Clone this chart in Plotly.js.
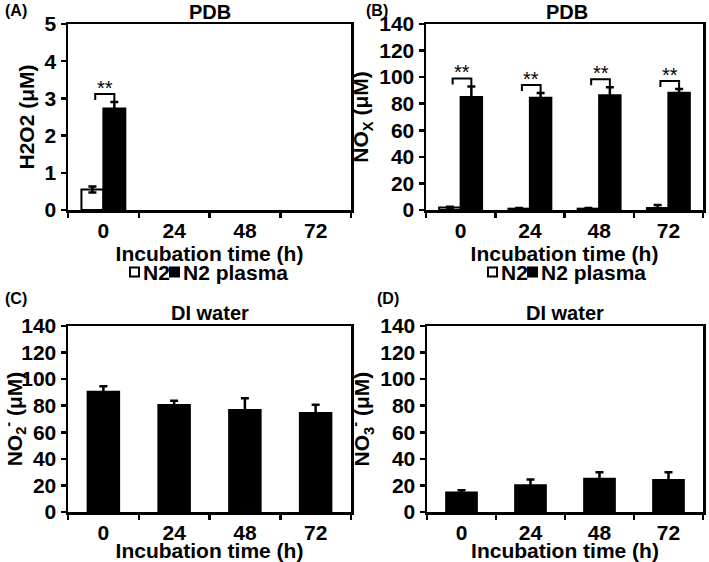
<!DOCTYPE html>
<html>
<head>
<meta charset="utf-8">
<script src="https://cdn.plot.ly/plotly-3.0.1.min.js"></script>
<style>html,body{margin:0;padding:0;background:#fff;}#chart{width:709px;height:562px;}</style>
</head>
<body>
<div id="chart"></div>
<script>
// ---- data ----
const categories = ['0', '24', '48', '72'];
const seriesNames = ['N2', 'N2 plasma'];

const h2o2_N2 = [0.55, null, null, null];
const h2o2_N2_err = [0.08, null, null, null];
const h2o2_plasma = [2.73, null, null, null];
const h2o2_plasma_err = [0.17, null, null, null];
const h2o2_sig = ['**', null, null, null];

const nox_N2 = [1.8, 1.0, 1.0, 1.5];
const nox_N2_err = [0.6, 0.5, 0.5, 2.3];
const nox_plasma = [85.0, 84.5, 86.3, 88.3];
const nox_plasma_err = [8.0, 3.5, 6.0, 2.7];
const nox_sig = ['**', '**', '**', '**'];

const no2_DI = [90.5, 80.5, 76.7, 74.5];
const no2_DI_err = [4.2, 3.3, 9.0, 6.3];

const no3_DI = [14.6, 20.1, 25.1, 24.1];
const no3_DI_err = [1.7, 4.3, 4.8, 5.8];

// ---- layout helpers ----
const W = 709, H = 562;
const FONT = 'Liberation Sans, Arial, Helvetica, sans-serif';
const fx = px => px / W;
const fy = py => 1 - py / H;

const boxes = {
  A: {x: [68, 351], y: [24, 210], yr: [0, 5], dt: 1},
  B: {x: [426, 703], y: [24, 210], yr: [0, 140], dt: 20},
  C: {x: [68, 351], y: [326, 512], yr: [0, 140], dt: 20},
  D: {x: [427, 703], y: [326, 512], yr: [0, 140], dt: 20}
};

const GW = 0.31;   // grouped bar width (category units)
const SW = 0.445;  // single bar width

function errBar(arr) {
  return {type: 'data', array: arr, visible: true, color: 'black', thickness: 2.5, width: 4};
}

const traces = [];
function grouped(xa, ya, n2, n2e, pl, ple) {
  traces.push({type: 'bar', name: seriesNames[0], x: categories, y: n2, xaxis: xa, yaxis: ya,
    width: GW, offset: -GW, marker: {color: 'white', line: {color: 'black', width: 2}},
    error_y: errBar(n2e), showlegend: false, hoverinfo: 'y'});
  traces.push({type: 'bar', name: seriesNames[1], x: categories, y: pl, xaxis: xa, yaxis: ya,
    width: GW, offset: 0, marker: {color: 'black', line: {color: 'black', width: 2}},
    error_y: errBar(ple), showlegend: false, hoverinfo: 'y'});
}
function single(xa, ya, v, e) {
  traces.push({type: 'bar', name: 'DI water', x: categories, y: v, xaxis: xa, yaxis: ya,
    width: SW, marker: {color: 'black', line: {color: 'black', width: 2}},
    error_y: errBar(e), showlegend: false, hoverinfo: 'y'});
}
grouped('x', 'y', h2o2_N2, h2o2_N2_err, h2o2_plasma, h2o2_plasma_err);
grouped('x2', 'y2', nox_N2, nox_N2_err, nox_plasma, nox_plasma_err);
single('x3', 'y3', no2_DI, no2_DI_err);
single('x4', 'y4', no3_DI, no3_DI_err);

const tickFont = {family: FONT, size: 21, color: 'black', weight: 'bold'};
const titleFont = {family: FONT, size: 21, color: 'black', weight: 'bold'};

function xAxis(b, anchor) {
  return {domain: [fx(b.x[0]), fx(b.x[1])], anchor: anchor, type: 'category',
    categoryorder: 'array', categoryarray: categories, range: [-0.5, 3.5],
    tickson: 'boundaries', ticks: 'outside', ticklen: 5, tickwidth: 2.5, tickcolor: 'black',
    showline: true, mirror: true, linecolor: 'black', linewidth: 2.5,
    showgrid: false, zeroline: false, tickfont: tickFont, fixedrange: true,
    title: {text: 'Incubation time (h)', font: titleFont, standoff: 0}};
}
function yAxis(b, anchor, title) {
  return {domain: [fy(b.y[1]), fy(b.y[0])], anchor: anchor, range: b.yr, dtick: b.dt, tick0: 0,
    ticks: 'outside', ticklen: 5, tickwidth: 2.5, tickcolor: 'black',
    showline: true, mirror: true, linecolor: 'black', linewidth: 2.5,
    showgrid: false, zeroline: false, tickfont: tickFont, fixedrange: true,
    title: {text: title, font: titleFont, standoff: 5}};
}

const shapes = [];
const annotations = [];

// significance brackets, built from the data values
function brackets(xr, yr, box, n2, n2e, pl, ple, sig) {
  const unit = (box.yr[1] - box.yr[0]) / (box.y[1] - box.y[0]); // data units per px
  sig.forEach((s, i) => {
    if (!s) return;
    const topN2 = n2[i] + n2e[i];
    const topPl = pl[i] + ple[i];
    const yTop = Math.max(topN2, topPl) + 8 * unit;
    const xl = i - GW / 2 + 0.04;
    const xrr = i + GW / 2;
    shapes.push({type: 'path', xref: xr, yref: yr,
      path: `M ${xl} ${yTop - 6 * unit} L ${xl} ${yTop} L ${xrr} ${yTop} L ${xrr} ${topPl}`,
      line: {color: 'black', width: 2}});
    annotations.push({xref: xr, yref: yr, x: (xl + xrr) / 2, y: yTop, text: s,
      showarrow: false, yanchor: 'bottom', yshift: -7,
      font: {family: FONT, size: 20, color: 'black'}});
  });
}
brackets('x', 'y', boxes.A, h2o2_N2, h2o2_N2_err, h2o2_plasma, h2o2_plasma_err, h2o2_sig);
brackets('x2', 'y2', boxes.B, nox_N2, nox_N2_err, nox_plasma, nox_plasma_err, nox_sig);

// panel titles and letters
function label(text, px, py, size, anchor) {
  annotations.push({xref: 'paper', yref: 'paper', x: fx(px), y: fy(py), text: text,
    showarrow: false, xanchor: anchor || 'center', yanchor: 'middle',
    font: {family: FONT, size: size, color: 'black', weight: 'bold'}});
}
label('PDB', (boxes.A.x[0] + boxes.A.x[1]) / 2, 12, 20);
label('PDB', (boxes.B.x[0] + boxes.B.x[1]) / 2 + 2, 12, 20);
label('DI water', (boxes.C.x[0] + boxes.C.x[1]) / 2, 313, 20);
label('DI water', (boxes.D.x[0] + boxes.D.x[1]) / 2, 313, 20);
label('(A)', 3, 11, 16, 'left');
label('(B)', 364, 10, 16, 'left');
label('(C)', 3, 298, 16, 'left');
label('(D)', 375, 298, 16, 'left');

// custom legends under panels A and B
function legend(box) {
  const x0 = box.x[0] + 62;
  const cy = 272;
  shapes.push({type: 'rect', xref: 'paper', yref: 'paper', x0: fx(x0), x1: fx(x0 + 9),
    y0: fy(cy + 4.5), y1: fy(cy - 4.5), line: {color: 'black', width: 2}, fillcolor: 'white'});
  label(seriesNames[0], x0 + 11, cy, 21, 'left');
  shapes.push({type: 'rect', xref: 'paper', yref: 'paper', x0: fx(x0 + 40), x1: fx(x0 + 49),
    y0: fy(cy + 4.5), y1: fy(cy - 4.5), line: {color: 'black', width: 2}, fillcolor: 'black'});
  label(seriesNames[1], x0 + 51, cy, 21, 'left');
}
legend(boxes.A);
legend(boxes.B);

const layout = {
  width: W, height: H,
  margin: {l: 0, r: 0, t: 0, b: 0},
  paper_bgcolor: 'white', plot_bgcolor: 'white',
  showlegend: false,
  barmode: 'group',
  font: {family: FONT, color: 'black'},
  xaxis: xAxis(boxes.A, 'y'),
  yaxis: yAxis(boxes.A, 'x', 'H2O2 (μM)'),
  xaxis2: xAxis(boxes.B, 'y2'),
  yaxis2: yAxis(boxes.B, 'x2', 'NO<sub>X</sub> (μM)'),
  xaxis3: xAxis(boxes.C, 'y3'),
  yaxis3: yAxis(boxes.C, 'x3', 'NO<sub>2</sub><sup>-</sup> (μM)'),
  xaxis4: xAxis(boxes.D, 'y4'),
  yaxis4: yAxis(boxes.D, 'x4', 'NO<sub>3</sub><sup>-</sup> (μM)'),
  shapes: shapes,
  annotations: annotations
};

Plotly.newPlot('chart', traces, layout, {displayModeBar: false, staticPlot: true});
</script>
</body>
</html>
